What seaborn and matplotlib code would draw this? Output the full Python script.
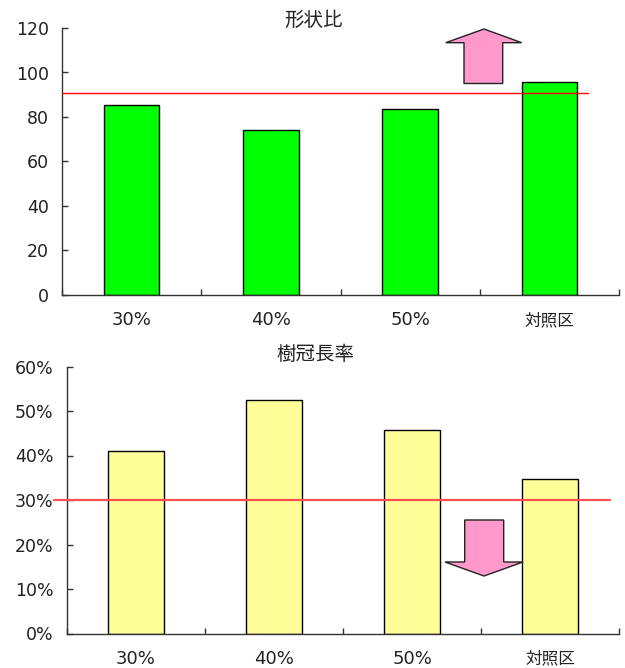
import matplotlib
matplotlib.use("Agg")
import matplotlib.pyplot as plt
from matplotlib.patches import Polygon
from matplotlib.ticker import FuncFormatter
import seaborn as sns
import pandas as pd

# ---- data ----
categories = ["30%", "40%", "50%", "対照区"]
shape_ratio = [85.3, 74.0, 83.6, 95.9]          # 形状比
shape_ratio_ref = 91.0
crown_ratio = [0.410, 0.525, 0.457, 0.347]       # 樹冠長率
crown_ratio_ref = 0.30

top_ticks = [0, 20, 40, 60, 80, 100, 120]
bottom_ticks = [0.0, 0.1, 0.2, 0.3, 0.4, 0.5, 0.6]

sns.set_style("white")
plt.rcParams["font.family"] = ["DejaVu Sans", "Noto Sans CJK JP"]

W, H = 625, 668
fig = plt.figure(figsize=(W / 100, H / 100), dpi=100)


def fx(px):
    return px / W


def fy(py):
    return 1 - py / H


ax1 = fig.add_axes([fx(62), fy(295), fx(619) - fx(62), fy(28) - fy(295)])
ax2 = fig.add_axes([fx(67), fy(633.5), fx(619) - fx(67), fy(366.5) - fy(633.5)])

df1 = pd.DataFrame({"cat": categories, "val": shape_ratio})
df2 = pd.DataFrame({"cat": categories, "val": crown_ratio})

sns.barplot(data=df1, x="cat", y="val", ax=ax1, color="#00ff00",
            edgecolor="black", linewidth=1.0, width=0.4, saturation=1)
sns.barplot(data=df2, x="cat", y="val", ax=ax2, color="#ffff99",
            edgecolor="black", linewidth=1.0, width=0.4, saturation=1)

ax1.set_ylim(0, 120)
ax1.set_yticks(top_ticks)
ax2.set_ylim(0, 0.6)
ax2.set_yticks(bottom_ticks)
ax2.yaxis.set_major_formatter(FuncFormatter(lambda v, _: f"{v * 100:.0f}%"))

for ax in (ax1, ax2):
    ax.set_xlim(-0.5, 3.5)
    ax.set_xlabel("")
    ax.set_ylabel("")
    for s in ("top", "right"):
        ax.spines[s].set_visible(False)
    for s in ("left", "bottom"):
        ax.spines[s].set_color("#333333")
        ax.spines[s].set_linewidth(1.0)
    # category separators on the x axis
    ax.set_xticks([-0.5, 0.5, 1.5, 2.5, 3.5], minor=True)
    ax.tick_params(axis="x", which="minor", direction="in", length=4,
                   width=1, color="#333333", bottom=True)
    ax.tick_params(axis="x", which="major", length=0, pad=18,
                   labelsize=13, labelcolor="#222222")
    ax.tick_params(axis="y", which="major", direction="in", length=4.5,
                   width=1, color="#333333", left=True, pad=9.5,
                   labelsize=12.5, labelcolor="#222222")
    for lab in ax.get_xticklabels():
        lab.set_verticalalignment("center")
        if lab.get_text() == "対照区":
            lab.set_fontsize(12)
    ax.grid(False)

# reference lines
ax1.axhline(shape_ratio_ref, xmin=0.0, xmax=0.944, color="#ff0000",
            linewidth=1.0, clip_on=False, zorder=5)
ax2.axhline(crown_ratio_ref, xmin=-0.024, xmax=0.984, color="#ff5050",
            linewidth=1.6, clip_on=False, zorder=5)

# titles
fig.text(fx(314), fy(20), "形状比", ha="center", va="center", fontsize=14,
         color="#222222")
fig.text(fx(315.5), fy(355), "樹冠長率", ha="center", va="center",
         fontsize=14, color="#222222")

# block arrows
up_arrow = [(464, 83.5), (464, 42.7), (445.7, 42.7), (484, 29),
            (521.7, 42.7), (502.7, 42.7), (502.7, 83.5)]
down_arrow = [(464.7, 520), (464.7, 562), (445, 562), (484, 576),
              (523, 562), (503.7, 562), (503.7, 520)]
for pts in (up_arrow, down_arrow):
    poly = Polygon([(fx(x), fy(y)) for x, y in pts], closed=True,
                   transform=fig.transFigure, facecolor="#ff99cc",
                   edgecolor="#222222", linewidth=1.0, zorder=10)
    fig.add_artist(poly)

fig.savefig("out.png", dpi=100)
